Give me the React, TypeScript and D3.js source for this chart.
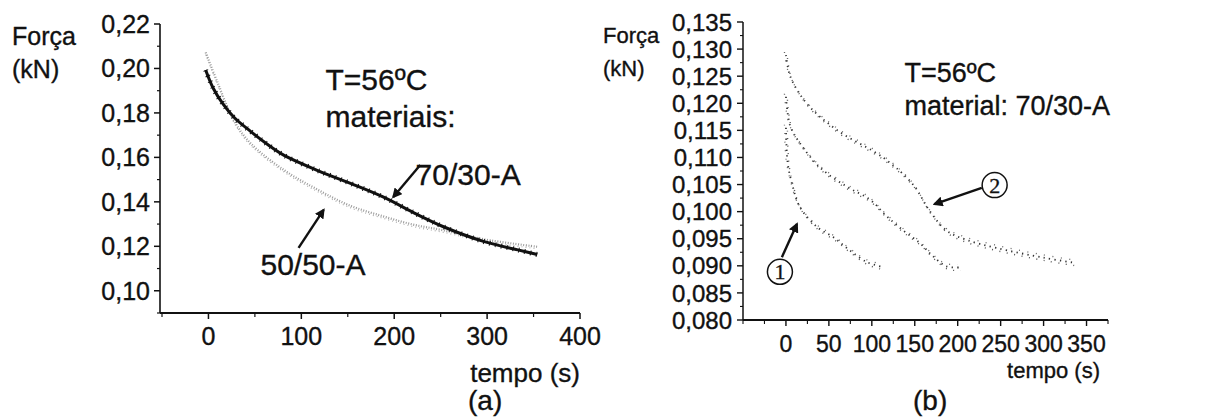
import React from "react";
import * as d3 from "d3";

// ---------- Panel (a) data: Força (kN) vs tempo (s) ----------
const timeA7030 = [-3, 5, 16, 28, 45, 63, 81, 117, 153, 188, 224, 253, 296, 333, 354];
const forceA7030 = [0.1993, 0.1912, 0.1838, 0.1778, 0.1718, 0.166, 0.161, 0.1542, 0.1483, 0.1422, 0.1345, 0.1288, 0.1222, 0.1184, 0.1163];
const timeA5050 = [-3, 10, 27, 45, 81, 117, 153, 188, 220, 253, 296, 354];
const forceA5050 = [0.2072, 0.1935, 0.1769, 0.1665, 0.1544, 0.1456, 0.1382, 0.1335, 0.1298, 0.1272, 0.1232, 0.1198];

// ---------- Panel (b) data: three relaxation runs ----------
const timeB1 = [0, 2, 8, 16, 36, 55, 74, 94, 110];
const forceB1 = [0.1155, 0.109, 0.1046, 0.1009, 0.0972, 0.0953, 0.0929, 0.0907, 0.0899];
const timeB2 = [0, 5, 16, 40, 71, 98, 117, 136, 156, 171, 187, 202];
const forceB2 = [0.1212, 0.1158, 0.1127, 0.1081, 0.1046, 0.1022, 0.0992, 0.0966, 0.0942, 0.0918, 0.0899, 0.0897];
const timeB3 = [0, 5, 24, 60, 113, 148, 167, 187, 210, 245, 300, 338];
const forceB3 = [0.1289, 0.125, 0.120, 0.115, 0.110, 0.105, 0.1002, 0.0965, 0.0948, 0.0933, 0.0915, 0.0905];

// ---------- ticks ----------
const yTicksA = [0.10, 0.12, 0.14, 0.16, 0.18, 0.20, 0.22];
const yMinorA = [0.09, 0.11, 0.13, 0.15, 0.17, 0.19, 0.21];
const xTicksA = [0, 100, 200, 300, 400];
const xMinorA = [-50, 50, 150, 250, 350];
const yTicksB = [0.080, 0.085, 0.090, 0.095, 0.100, 0.105, 0.110, 0.115, 0.120, 0.125, 0.130, 0.135];
const xTicksB = [0, 50, 100, 150, 200, 250, 300, 350];
const xMinorB = [-50, -25, 25, 75, 125, 175, 225, 275, 325, 375];

const SANS = "'Liberation Sans', Arial, Helvetica, sans-serif";
const SERIF = "'Liberation Serif', 'Times New Roman', serif";
const INK = "#111";

const fmtA = (v: number) => d3.format(".2f")(v).replace(".", ",");
const fmtB = (v: number) => d3.format(".3f")(v).replace(".", ",");

function linePath(times: number[], vals: number[], x: any, y: any) {
  const gen = d3
    .line<number>()
    .x((_, i) => x(times[i]))
    .y((d) => y(d))
    .curve(d3.curveCatmullRom.alpha(0.5));
  return gen(vals) || "";
}

const T = (props: any) => <text fill={INK} stroke={INK} strokeWidth={0.35} {...props} />;

export default function App() {
  const xA = d3.scaleLinear().domain([-50, 400]).range([162, 580]);
  const yA = d3.scaleLinear().domain([0.09, 0.22]).range([313, 24]);
  const xB = d3.scaleLinear().domain([-50, 375]).range([743, 1108]);
  const yB = d3.scaleLinear().domain([0.08, 0.135]).range([320, 22]);

  const yMinorB = d3.range(0, 23).map((i) => 0.08 + i * 0.0025).filter((_, i) => i % 2 === 1);

  const p7030 = linePath(timeA7030, forceA7030, xA, yA);
  const p5050 = linePath(timeA5050, forceA5050, xA, yA);
  const pB1 = linePath(timeB1, forceB1, xB, yB);
  const pB2 = linePath(timeB2, forceB2, xB, yB);
  const pB3 = linePath(timeB3, forceB3, xB, yB);

  const arrow = (x1: number, y1: number, x2: number, y2: number, key: string) => (
    <line key={key} x1={x1} y1={y1} x2={x2} y2={y2} stroke={INK} strokeWidth={2.4} markerEnd="url(#ah)" />
  );

  return (
    <svg
      width={1213}
      height={417}
      style={{ position: "absolute", left: 0, top: 0, background: "#fff" }}
      fontFamily={SANS}
    >
      <defs>
        <marker id="ah" viewBox="0 0 10 10" refX={8} refY={5} markerWidth={4.2} markerHeight={4.2} orient="auto">
          <path d="M0,0 L10,5 L0,10 z" fill={INK} />
        </marker>
      </defs>
      <rect width={1213} height={417} fill="#fff" />

      {/* ================= Panel (a) ================= */}
      <g>
        <line x1={xA.range()[0] - 2} x2={xA.range()[0] - 2} y1={yA.range()[1]} y2={yA.range()[0]} stroke={INK} strokeWidth={1.6} />
        <line x1={xA.range()[0] - 2} x2={xA.range()[1]} y1={yA.range()[0]} y2={yA.range()[0]} stroke={INK} strokeWidth={2} />
        {yTicksA.map((v) => (
          <g key={"ya" + v}>
            <line x1={xA.range()[0] - 8} x2={xA.range()[0] - 2} y1={yA(v)} y2={yA(v)} stroke={INK} strokeWidth={1.5} />
            <T x={xA.range()[0] - 12} y={yA(v)} dy="0.36em" textAnchor="end" fontSize={25}>
              {fmtA(v)}
            </T>
          </g>
        ))}
        {yMinorA.map((v) => (
          <line key={"yma" + v} x1={xA.range()[0] - 5} x2={xA.range()[0] - 2} y1={yA(v)} y2={yA(v)} stroke={INK} strokeWidth={1.2} />
        ))}
        {xTicksA.map((v) => (
          <g key={"xa" + v}>
            <line x1={xA(v)} x2={xA(v)} y1={yA.range()[0]} y2={yA.range()[0] + 6} stroke={INK} strokeWidth={1.5} />
            <T x={xA(v)} y={yA.range()[0] + 32} textAnchor="middle" fontSize={25}>
              {v}
            </T>
          </g>
        ))}
        {xMinorA.map((v) => (
          <line key={"xma" + v} x1={xA(v)} x2={xA(v)} y1={yA.range()[0]} y2={yA.range()[0] + 4} stroke={INK} strokeWidth={1.2} />
        ))}

        {/* series */}
        <path d={p5050} fill="none" stroke="#9a9a9a" strokeWidth={2.2} strokeDasharray="1 1.6" />
        <path d={p5050} fill="none" stroke="#b0b0b0" strokeWidth={1.2} strokeDasharray="1 3" transform="translate(0,2)" />
        <path d={p7030} fill="none" stroke={INK} strokeWidth={3} />
        <path d={p7030} fill="none" stroke={INK} strokeWidth={5} strokeDasharray="1 5" />

        {/* annotations */}
        <T x={xA(126)} y={yA(0.1903)} fontSize={30}>T=56ºC</T>
        <T x={xA(126)} y={yA(0.1737)} fontSize={30}>materiais:</T>
        <T x={xA(223)} y={yA(0.1476)} fontSize={30}>70/30-A</T>
        <T x={xA(56)} y={yA(0.1072)} fontSize={30}>50/50-A</T>
        {arrow(xA(228), yA(0.1566), xA(199), yA(0.1422), "a1")}
        {arrow(xA(97), yA(0.1193), xA(124), yA(0.1364), "a2")}

        <T x={12} y={45} fontSize={25}>Força</T>
        <T x={12} y={78} fontSize={25}>(kN)</T>
        <T x={580} y={382} textAnchor="end" fontSize={26}>tempo (s)</T>
        <T x={468} y={410} fontSize={28}>(a)</T>
      </g>

      {/* ================= Panel (b) ================= */}
      <g>
        <line x1={xB.range()[0]} x2={xB.range()[0]} y1={yB.range()[1]} y2={yB.range()[0]} stroke={INK} strokeWidth={1.5} />
        <line x1={xB.range()[0]} x2={xB.range()[1]} y1={yB.range()[0]} y2={yB.range()[0]} stroke={INK} strokeWidth={1.8} />
        {yTicksB.map((v) => (
          <g key={"yb" + v}>
            <line x1={xB.range()[0] - 6} x2={xB.range()[0]} y1={yB(v)} y2={yB(v)} stroke={INK} strokeWidth={1.4} />
            <T x={xB.range()[0] - 11} y={yB(v)} dy="0.36em" textAnchor="end" fontSize={24}>
              {fmtB(v)}
            </T>
          </g>
        ))}
        {yMinorB.map((v, i) => (
          <line key={"ymb" + i} x1={xB.range()[0] - 3} x2={xB.range()[0]} y1={yB(v)} y2={yB(v)} stroke={INK} strokeWidth={1.1} />
        ))}
        {xTicksB.map((v) => (
          <g key={"xb" + v}>
            <line x1={xB(v)} x2={xB(v)} y1={yB.range()[0]} y2={yB.range()[0] + 6} stroke={INK} strokeWidth={1.4} />
            <T x={xB(v)} y={yB.range()[0] + 32} textAnchor="middle" fontSize={23}>
              {v}
            </T>
          </g>
        ))}
        {xMinorB.map((v) => (
          <line key={"xmb" + v} x1={xB(v)} x2={xB(v)} y1={yB.range()[0]} y2={yB.range()[0] + 4} stroke={INK} strokeWidth={1.1} />
        ))}

        {/* scattered runs */}
        {[pB1, pB2, pB3].map((p, i) => (
          <g key={"run" + i}>
            <path d={p} fill="none" stroke="#333" strokeWidth={1.8} strokeDasharray="1.3 4.2" />
            <path d={p} fill="none" stroke="#555" strokeWidth={1.4} strokeDasharray="1 6.5" transform="translate(1.5,3)" />
            <path d={p} fill="none" stroke="#666" strokeWidth={1.3} strokeDasharray="1 7.5" transform="translate(-1.5,-3)" />
          </g>
        ))}

        {/* annotations */}
        <T x={xB(138)} y={yB(0.1239)} fontSize={27}>T=56ºC</T>
        <T x={xB(138)} y={yB(0.1178)} fontSize={27}>material: 70/30-A</T>
        {arrow(xB(-4.7), yB(0.0916), xB(12.8), yB(0.0977), "b1")}
        {arrow(xB(228), yB(0.1044), xB(173), yB(0.1014), "b2")}
        <circle cx={xB(-7)} cy={yB(0.0889)} r={12.5} fill="#fff" stroke={INK} strokeWidth={1.5} />
        <T x={xB(-7)} y={yB(0.0889)} dy="0.35em" textAnchor="middle" fontFamily={SERIF} fontSize={22}>1</T>
        <circle cx={xB(243)} cy={yB(0.1049)} r={12.5} fill="#fff" stroke={INK} strokeWidth={1.5} />
        <T x={xB(243)} y={yB(0.1049)} dy="0.35em" textAnchor="middle" fontFamily={SERIF} fontSize={22}>2</T>

        <T x={603} y={43} fontSize={22}>Força</T>
        <T x={603} y={76} fontSize={22}>(kN)</T>
        <T x={1100} y={378} textAnchor="end" fontSize={22}>tempo (s)</T>
        <T x={913} y={410} fontSize={28}>(b)</T>
      </g>
    </svg>
  );
}
